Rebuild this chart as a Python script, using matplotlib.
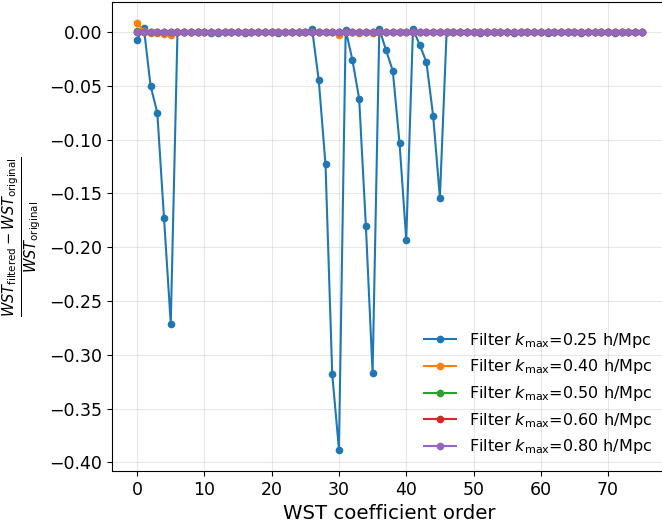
import numpy as np
import matplotlib
matplotlib.use('Agg')
import matplotlib.pyplot as plt

# relative change of WST coefficients after filtering
order = np.arange(76)

k_max = [0.25, 0.40, 0.50, 0.60, 0.80]

diff_025 = np.zeros(76)
diff_025[0:7] = [-0.007, 0.004, -0.050, -0.075, -0.173, -0.271, 0.0]
diff_025[26:47] = [0.003, -0.045, -0.123, -0.318, -0.388,
                   0.002, -0.026, -0.062, -0.180, -0.317,
                   0.003, -0.017, -0.036, -0.103, -0.193,
                   0.003, -0.012, -0.028, -0.078, -0.154, 0.0]
diff_025[[11, 12, 16, 21, 51, 56, 61, 66, 71]] = -0.001

diff_040 = np.zeros(76)
diff_040[0:6] = [0.008, 0.001, -0.001, -0.001, -0.002, -0.003]
diff_040[[30, 33, 35]] = [-0.003, -0.001, -0.001]

diff_050 = np.zeros(76)
diff_050[0] = 0.001
diff_060 = np.zeros(76)
diff_080 = np.zeros(76)

series = [diff_025, diff_040, diff_050, diff_060, diff_080]

fig, ax = plt.subplots(figsize=(6.62, 5.22), dpi=100)

for k, d in zip(k_max, series):
    ax.plot(order, d, marker='o', ms=4.5, lw=1.5,
            label=r'Filter $k_{\rm max}$=%.2f h/Mpc' % k)

ax.set_xlabel('WST coefficient order', fontsize=14.2)
ax.set_ylabel(r'$\frac{WST_{\rm filtered} - WST_{\rm original}}{WST_{\rm original}}$', fontsize=15)
ax.tick_params(labelsize=12.5)
ax.grid(alpha=0.3)
ax.legend(loc='lower right', fontsize=11.5, labelspacing=0.48, frameon=False)

# the original figure is cropped slightly on the right
fig.subplots_adjust(left=0.169, right=1.0075, top=0.996, bottom=0.098)
fig.savefig('out.png')
